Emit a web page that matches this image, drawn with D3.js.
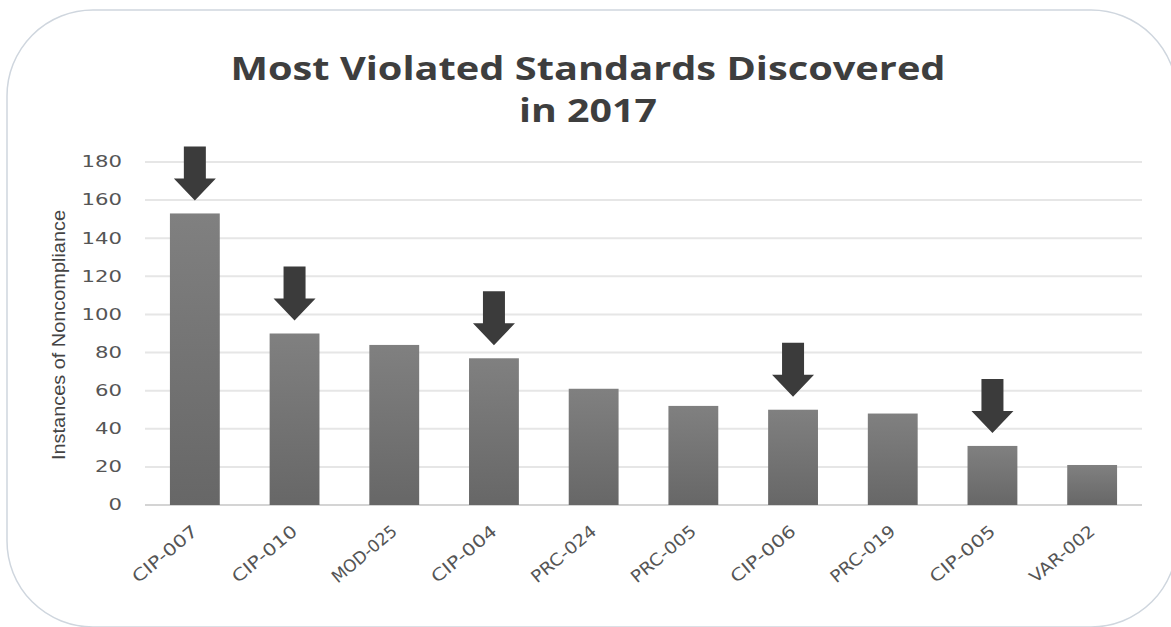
<!DOCTYPE html>
<html>
<head>
<meta charset="utf-8">
<script src="https://cdn.jsdelivr.net/npm/d3@7"></script>
<style>
  body { margin: 0; background: #fff; }
  svg { display: block; }
</style>
</head>
<body>
<svg id="chart" width="1171" height="627"></svg>
<script>
// chart data
var standards = ["CIP-007", "CIP-010", "MOD-025", "CIP-004", "PRC-024", "PRC-005", "CIP-006", "PRC-019", "CIP-005", "VAR-002"];
var instances = [153, 90, 84, 77, 61, 52, 50, 48, 31, 21];
var flagged = ["CIP-007", "CIP-010", "CIP-004", "CIP-006", "CIP-005"];
var yTicks = [0, 20, 40, 60, 80, 100, 120, 140, 160, 180];
var titleLines = ["Most Violated Standards Discovered", "in 2017"];
var yTitle = "Instances of Noncompliance";

var rows = standards.map(function(s, i) { return { name: s, value: instances[i] }; });

var svg = d3.select("#chart");

// panel frame with the big rounded corners
svg.append("rect")
    .attr("x", 7).attr("y", 10)
    .attr("width", 1170).attr("height", 617)
    .attr("rx", 86).attr("ry", 86)
    .attr("fill", "#fff")
    .attr("stroke", "#cfd6de")
    .attr("stroke-width", 1.5);

var defs = svg.append("defs");
var grad = defs.append("linearGradient")
    .attr("id", "barFill").attr("x1", 0).attr("y1", 0).attr("x2", 0).attr("y2", 1);
grad.append("stop").attr("offset", "0%").attr("stop-color", "#808080");
grad.append("stop").attr("offset", "100%").attr("stop-color", "#676767");

var x = d3.scaleBand()
    .domain(standards)
    .range([145, 1142])
    .paddingInner(0.5)
    .paddingOuter(0.25);

var y = d3.scaleLinear()
    .domain([0, 180])
    .range([505, 162]);

// gridlines
svg.append("g")
    .selectAll("line")
    .data(yTicks)
    .enter().append("line")
    .attr("x1", 145).attr("x2", 1142)
    .attr("y1", function(d) { return y(d); })
    .attr("y2", function(d) { return y(d); })
    .attr("stroke", function(d) { return d === 0 ? "#d4d4d4" : "#e6e6e6"; })
    .attr("stroke-width", 2);

// y tick labels
var yAxis = svg.append("g")
    .attr("transform", "translate(126,0)")
    .call(d3.axisLeft(y).tickValues(yTicks).tickSize(0).tickPadding(4));
yAxis.select(".domain").remove();
yAxis.selectAll("text")
    .attr("font-family", "DejaVu Sans")
    .attr("font-size", 15)
    .attr("fill", "#555")
    .attr("textLength", function(d) { return String(d).length * 13.5; })
    .attr("lengthAdjust", "spacingAndGlyphs");

// bars
svg.append("g")
    .selectAll("rect")
    .data(rows)
    .enter().append("rect")
    .attr("x", function(d) { return x(d.name); })
    .attr("y", function(d) { return y(d.value); })
    .attr("width", x.bandwidth())
    .attr("height", function(d) { return y(0) - y(d.value); })
    .attr("fill", "url(#barFill)");

// arrows over the flagged bars
var arrowPath = function(cx, tip) {
    var p = d3.path();
    var top = tip - 54, neck = tip - 22;
    p.moveTo(cx - 11, top);
    p.lineTo(cx + 11, top);
    p.lineTo(cx + 11, neck);
    p.lineTo(cx + 21, neck);
    p.lineTo(cx, tip);
    p.lineTo(cx - 21, neck);
    p.lineTo(cx - 11, neck);
    p.closePath();
    return p.toString();
};
svg.append("g")
    .selectAll("path")
    .data(rows.filter(function(d) { return flagged.indexOf(d.name) >= 0; }))
    .enter().append("path")
    .attr("d", function(d) { return arrowPath(x(d.name) + x.bandwidth() / 2, y(d.value) - 13); })
    .attr("fill", "#3b3b3b");

// category labels, slanted
svg.append("g")
    .selectAll("text")
    .data(standards)
    .enter().append("text")
    .attr("transform", function(d) {
        return "translate(" + (x(d) + x.bandwidth() / 2 + 4) + ",533) rotate(-40)";
    })
    .attr("text-anchor", "end")
    .attr("font-family", "DejaVu Sans")
    .attr("font-size", 17)
    .attr("fill", "#555")
    .attr("textLength", function(d) { return d.length * 11.3; })
    .attr("lengthAdjust", "spacingAndGlyphs")
    .text(function(d) { return d; });

// y axis title
svg.append("text")
    .attr("transform", "translate(65,335) rotate(-90)")
    .attr("text-anchor", "middle")
    .attr("font-family", "Liberation Sans Narrow, Liberation Sans")
    .attr("font-size", 18)
    .attr("fill", "#444")
    .attr("textLength", 250)
    .attr("lengthAdjust", "spacingAndGlyphs")
    .text(yTitle);

// title
var titleWidths = [715, 138];
svg.append("g")
    .selectAll("text")
    .data(titleLines)
    .enter().append("text")
    .attr("x", 588)
    .attr("y", function(d, i) { return 80 + i * 42; })
    .attr("text-anchor", "middle")
    .attr("font-family", "Open Sans")
    .attr("font-weight", "bold")
    .attr("font-size", 32)
    .attr("fill", "#3e3e3e")
    .attr("textLength", function(d, i) { return titleWidths[i]; })
    .attr("lengthAdjust", "spacingAndGlyphs")
    .text(function(d) { return d; });
</script>
</body>
</html>
